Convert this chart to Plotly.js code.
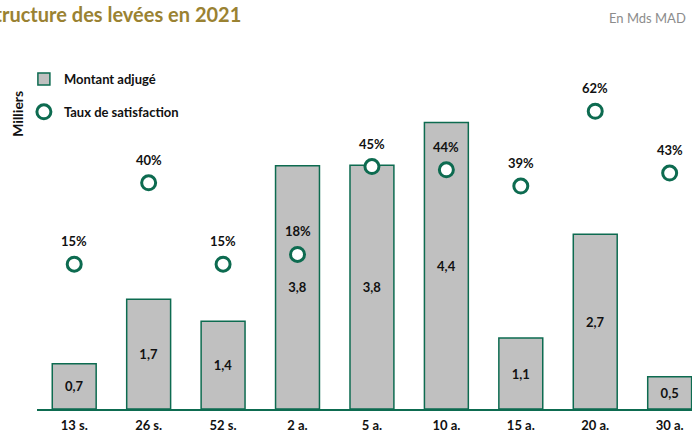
<!DOCTYPE html>
<html>
<head>
<meta charset="utf-8">
<script src="https://cdn.plot.ly/plotly-3.0.1.min.js"></script>
<style>
  body { margin: 0; background: #fff; }
  #chart { width: 692px; height: 433px; }
</style>
</head>
<body>
<div id="chart"></div>
<script>
const maturites = ['13 s.', '26 s.', '52 s.', '2 a.', '5 a.', '10 a.', '15 a.', '20 a.', '30 a.'];
const montantAdjuge = [0.7, 1.7, 1.36, 3.77, 3.78, 4.44, 1.1, 2.71, 0.5];
const tauxSatisfaction = [15, 40, 15, 18, 45, 44, 39, 62, 43];

const vert = '#0d6b50';
const police = 'Lato, "Open Sans", sans-serif';
const texteGras = { family: police, size: 13, color: '#111', weight: 'bold' };

const barres = {
    x: maturites,
    y: montantAdjuge,
    type: 'bar',
    name: 'Montant adjugé',
    legendgroup: 'a',
    marker: { color: '#c0c0c0', line: { color: vert, width: 1.5 } },
    text: montantAdjuge.map(v => v.toFixed(1).replace('.', ',')),
    textposition: 'inside',
    insidetextanchor: 'middle',
    textangle: 0,
    constraintext: 'none',
    textfont: texteGras,
    hoverinfo: 'skip'
};

const cercles = {
    x: maturites,
    y: tauxSatisfaction,
    yaxis: 'y2',
    type: 'scatter',
    mode: 'markers',
    name: 'Taux de satisfaction',
    legendgroup: 'b',
    marker: { symbol: 'circle', size: 14, color: '#fff', line: { color: vert, width: 3 } },
    hoverinfo: 'skip'
};

// étiquettes des pourcentages au-dessus des cercles
const etiquettesTaux = tauxSatisfaction.map((v, i) => ({
    x: maturites[i], y: v, xref: 'x', yref: 'y2',
    text: v + '%', showarrow: false, yshift: 23,
    font: texteGras
}));

const layout = {
    width: 692,
    height: 433,
    margin: { l: 37, r: 0, t: 40, b: 24 },
    paper_bgcolor: '#fff',
    plot_bgcolor: '#fff',
    font: { family: police, color: '#111' },
    bargap: 0.41,
    showlegend: true,
    legend: {
        x: -0.02, y: 0.935, xanchor: 'left', yanchor: 'top',
        traceorder: 'grouped',
        tracegroupgap: 13,
        font: texteGras,
        itemwidth: 30
    },
    xaxis: {
        range: [-0.5, 8.3],
        showline: true, linecolor: vert, linewidth: 2,
        ticks: '', showgrid: false, zeroline: false,
        tickfont: texteGras,
        ticklabelstandoff: 3
    },
    yaxis: {
        range: [0, 5.72],
        visible: false, showgrid: false, zeroline: false
    },
    yaxis2: {
        range: [-29.5, 83.9],
        overlaying: 'y', side: 'right',
        visible: false, showgrid: false, zeroline: false
    },
    annotations: etiquettesTaux.concat([
        {
            text: 'Structure des levées en 2021',
            xref: 'paper', yref: 'paper',
            x: -0.084, y: 1.07, xanchor: 'left', yanchor: 'middle',
            showarrow: false,
            font: { family: police, size: 20, color: '#9a8232', weight: 'bold' }
        },
        {
            text: 'En Mds MAD',
            xref: 'paper', yref: 'paper',
            x: 0.994, y: 1.06, xanchor: 'right', yanchor: 'middle',
            showarrow: false,
            font: { family: police, size: 13, color: '#8c8c8c' }
        },
        {
            text: 'Milliers',
            xref: 'paper', yref: 'paper',
            x: -0.029, y: 0.80, xanchor: 'center', yanchor: 'middle',
            textangle: -90,
            showarrow: false,
            font: { family: police, size: 14, color: '#111', weight: 'bold' }
        }
    ])
};

Plotly.newPlot('chart', [barres, cercles], layout, { displayModeBar: false, staticPlot: true });
</script>
</body>
</html>
